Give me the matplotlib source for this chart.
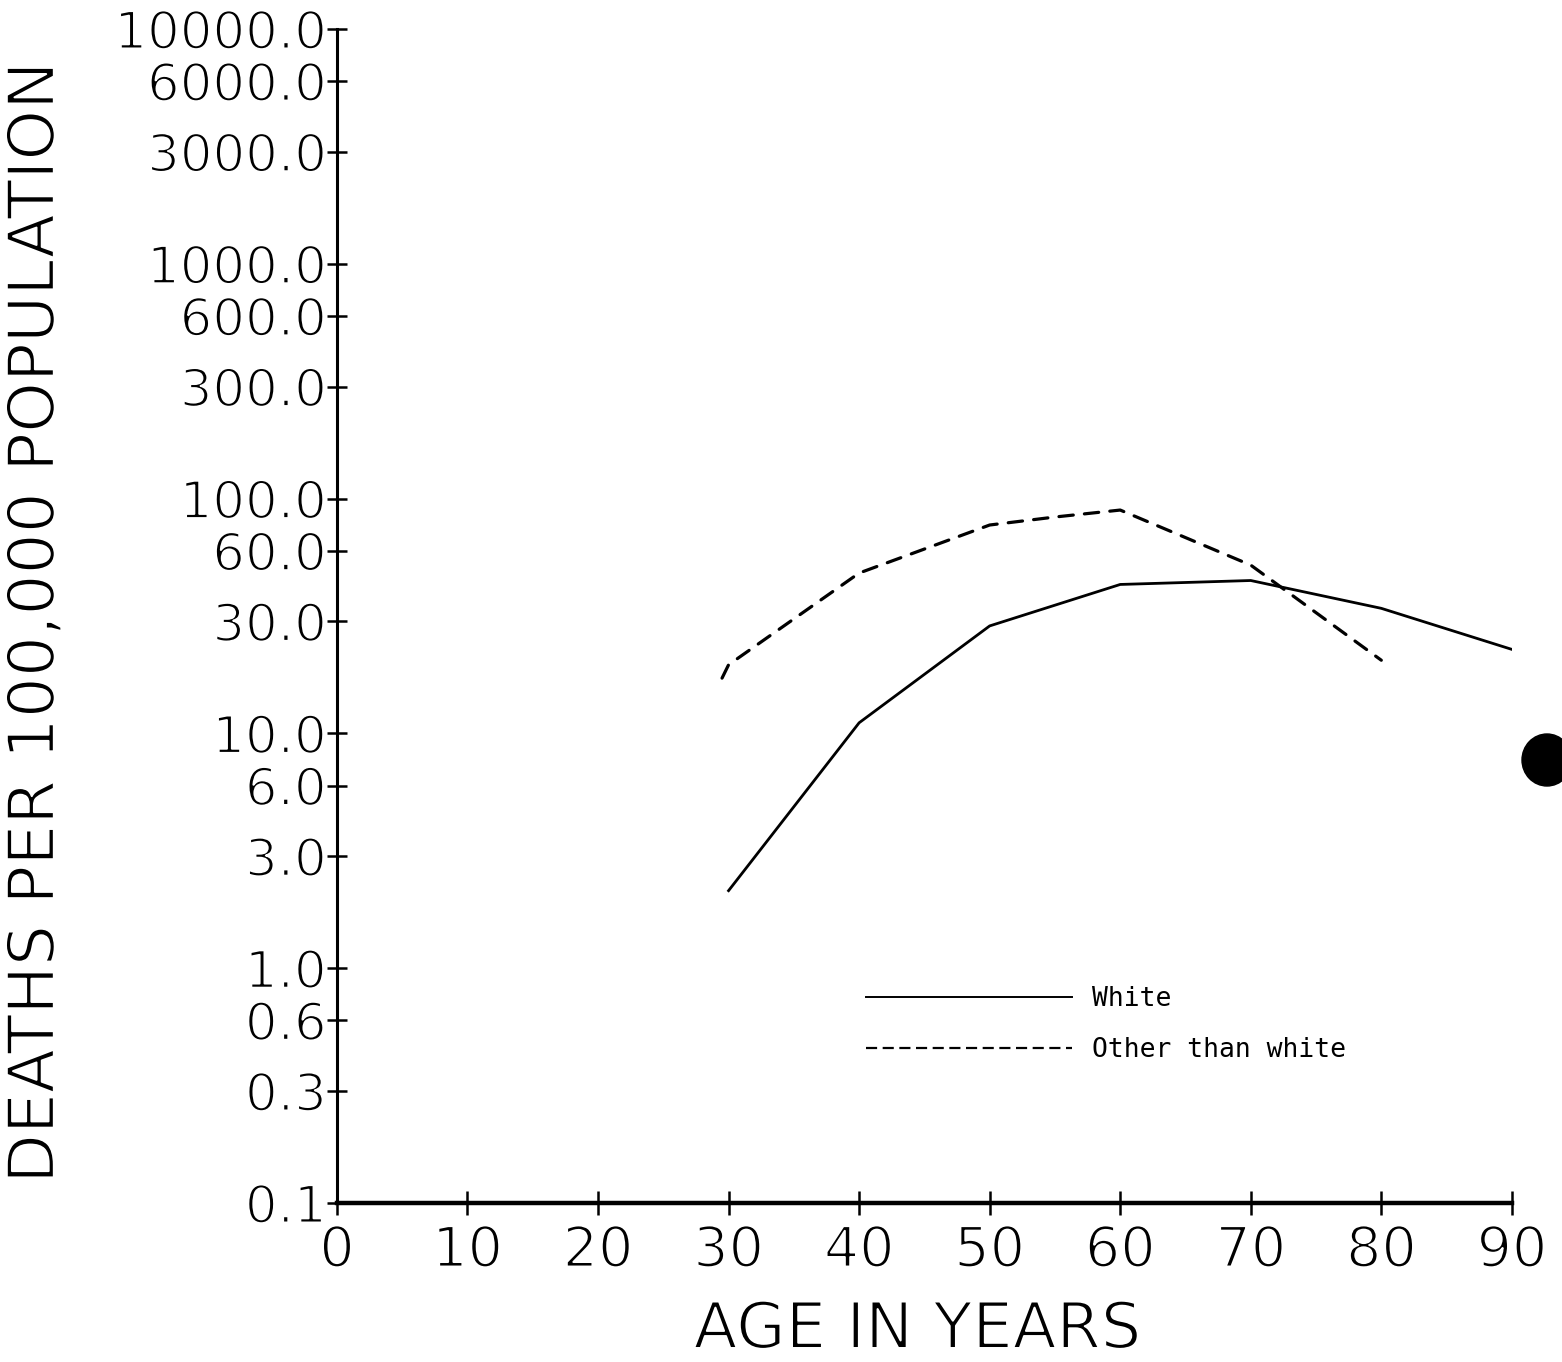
import matplotlib
matplotlib.use("Agg")
import matplotlib.pyplot as plt
import matplotlib.patheffects as pe
from matplotlib.lines import Line2D
from matplotlib.patches import Ellipse
from matplotlib.ticker import FixedLocator, FixedFormatter, NullLocator

# Death rates per 100,000 population by age
age_white = [30, 40, 50, 60, 70, 80, 90]
rate_white = [2.14, 11.1, 28.7, 43.1, 44.8, 34.1, 22.8]

age_other = [29.5, 30, 40, 50, 55, 60, 70, 80]
rate_other = [17.2, 19.6, 48.2, 77.2, 83.5, 89.4, 52.1, 20.5]

series_labels = ["White", "Other than white"]

x_ticks = [0, 10, 20, 30, 40, 50, 60, 70, 80, 90]
x_tick_labels = ["0", "10", "20", "30", "40", "50", "60", "70", "80", "90"]
y_ticks = [0.1, 0.3, 0.6, 1, 3, 6, 10, 30, 60, 100, 300, 600, 1000, 3000, 6000, 10000]
y_tick_labels = ["0.1", "0.3", "0.6", "1.0", "3.0", "6.0", "10.0", "30.0", "60.0",
                 "100.0", "300.0", "600.0", "1000.0", "3000.0", "6000.0", "10000.0"]

AXIS_FONT = ["DejaVu Sans"]
LEGEND_FONT = ["DejaVu Sans Mono"]
# thin pen-plotter look: erode the glyph outlines slightly
THIN = [pe.Normal(), pe.Stroke(linewidth=1.5, foreground="white")]

fig = plt.figure(figsize=(15.62, 13.62), dpi=100)
fig.patch.set_facecolor("white")
ax = fig.add_axes([0.2157, 0.1167, 0.7522, 0.862])

ax.plot(age_white, rate_white, color="black", lw=2.0, solid_joinstyle="round")
ax.plot(age_other, rate_other, color="black", lw=2.3, linestyle=(0, (4.5, 3.5)),
        dash_capstyle="round")

ax.set_yscale("log")
ax.set_xlim(0, 90)
ax.set_ylim(0.1, 10000)

for side in ("top", "right"):
    ax.spines[side].set_visible(False)
ax.spines["left"].set_linewidth(2.2)
ax.spines["bottom"].set_linewidth(3.2)

ax.xaxis.set_major_locator(FixedLocator(x_ticks))
ax.xaxis.set_major_formatter(FixedFormatter(x_tick_labels))
ax.yaxis.set_major_locator(FixedLocator(y_ticks))
ax.yaxis.set_major_formatter(FixedFormatter(y_tick_labels))
ax.yaxis.set_minor_locator(NullLocator())
ax.xaxis.set_minor_locator(NullLocator())

ax.tick_params(axis="x", direction="inout", length=17, width=1.8, pad=7)
ax.tick_params(axis="y", direction="inout", length=15, width=1.8, pad=0)
for lab in ax.get_xticklabels():
    lab.set_family(AXIS_FONT)
    lab.set_fontsize(40)
    lab.set_path_effects(THIN)
for lab in ax.get_yticklabels():
    lab.set_family(AXIS_FONT)
    lab.set_fontsize(37)
    lab.set_path_effects(THIN)

ax.set_xlabel("AGE IN YEARS", family=AXIS_FONT, fontsize=46, path_effects=THIN)
ax.set_ylabel("DEATHS PER 100,000 POPULATION", family=AXIS_FONT, fontsize=46.5,
              path_effects=THIN)
ax.xaxis.set_label_coords(0.494, -0.1235)
ax.xaxis.label.set_verticalalignment("baseline")
ax.yaxis.set_label_coords(-0.229, 0.495)

handles = [
    Line2D([], [], color="black", lw=1.4),
    Line2D([], [], color="black", lw=1.6, linestyle=(0, (5, 2.5))),
]
ax.legend(handles, series_labels, loc="center left", bbox_to_anchor=(0.4505, 0.152),
          frameon=False, prop={"family": LEGEND_FONT, "size": 19}, handlelength=7.8,
          handletextpad=0.75, labelspacing=0.95, borderpad=0, borderaxespad=0)

# punched binder hole at the page edge
fig.add_artist(Ellipse((1547 / 1562, 1 - 760 / 1362), 50 / 1562, 52 / 1362,
                       transform=fig.transFigure, color="black"))

fig.savefig("out.png", dpi=100, facecolor="white")
